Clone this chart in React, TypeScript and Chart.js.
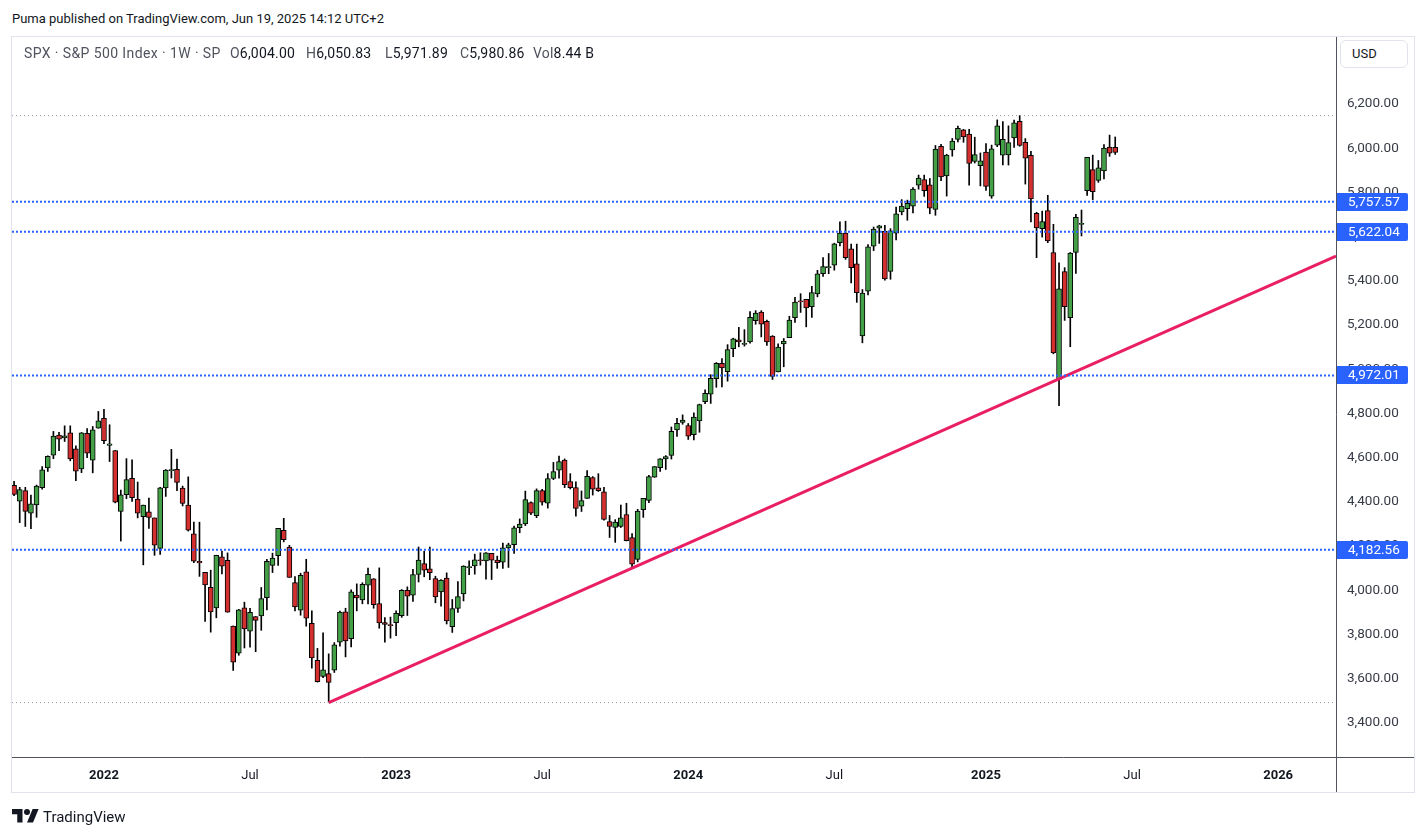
import React, { useEffect, useRef } from "react";
import { Chart, registerables } from "chart.js";

Chart.register(...registerables);

// Weekly S&P 500 candles, first bar is the week of 2021-09-13 (index 0).
const openPrices = [
  // 2021
  4474.8, 4402.9, 4450.3, 4348.8, 4385.4, 4463.7, 4553.7, 4610.6, 4701.5, 4689.3, 4712.0, 4640.2, 4548.4, 4710.3, 4587.9, 4733.0,
  // 2022
  4778.1, 4655.3, 4632.2, 4356.3, 4431.8, 4505.8, 4412.6, 4332.7, 4354.2, 4327.0, 4188.8, 4462.4, 4541.1, 4547.0, 4462.6, 4385.6,
  4255.3, 4130.6, 4081.3, 4013.0, 3919.4, 4151.1, 4134.7, 3838.2, 3715.3, 3920.8, 3815.1, 3880.9, 3883.8, 3965.7, 4112.4, 4155.9,
  4270.4, 4195.1, 4034.6, 3909.4, 4083.7, 3849.9, 3682.7, 3609.8, 3622.8, 3638.7, 3764.7, 3901.8, 3780.7, 3977.9, 3956.2, 4023.3,
  4052.0, 3939.3, 3853.8, 3843.3,
  // 2023
  3853.3, 3884.3, 3999.3, 3978.1, 4071.3, 4120.0, 4096.6, 4052.4, 3992.4, 4055.2, 3835.1, 3917.5, 3982.9, 4102.2, 4110.3, 4137.2,
  4132.1, 4166.8, 4136.1, 4126.7, 4190.8, 4205.5, 4283.0, 4300.2, 4396.1, 4337.4, 4450.5, 4394.2, 4505.3, 4543.4, 4588.9, 4491.6,
  4464.1, 4380.3, 4415.3, 4510.1, 4462.7, 4445.1, 4310.6, 4284.5, 4289.0, 4342.4, 4238.5, 4139.4, 4364.3, 4406.7, 4511.7, 4554.9,
  4594.6, 4610.2, 4725.6, 4758.9,
  // 2024
  4745.2, 4703.7, 4766.1, 4853.4, 4886.7, 4957.2, 5026.8, 4989.3, 5093.0, 5132.4, 5112.0, 5123.3, 5219.5, 5258.0, 5217.0, 5149.7,
  4987.3, 5114.1, 5142.4, 5233.1, 5305.4, 5315.9, 5283.4, 5341.2, 5432.4, 5459.6, 5471.1, 5572.8, 5616.1, 5544.6, 5476.6, 5151.1,
  5353.3, 5557.2, 5637.8, 5623.9, 5442.1, 5615.2, 5711.9, 5726.5, 5737.8, 5833.2, 5857.8, 5833.9, 5723.2, 6008.9, 5874.2, 5992.3,
  6040.1, 6083.0, 6063.8, 5940.3, 5920.7,
  // 2025
  5982.8, 5782.6, 6014.1, 5969.0, 5969.7, 6046.4, 6121.6, 6026.5, 5968.3, 5705.4, 5635.6, 5718.1, 5527.9, 4953.8, 5442.0, 5232.9,
  5529.0, 5655.3, 5807.6, 5902.9, 5854.1, 5896.7, 6004.6, 6004.0,
];

const highPrices = [
  4492.8, 4465.4, 4465.4, 4429.9, 4475.8, 4559.7, 4608.1, 4718.5, 4714.9, 4743.8, 4743.8, 4652.9, 4713.6, 4731.9, 4740.7, 4808.9,
  4818.6, 4748.8, 4632.2, 4453.2, 4595.3, 4590.0, 4489.5, 4385.3, 4416.8, 4327.0, 4465.4, 4546.0, 4637.3, 4593.5, 4471.0, 4512.9,
  4308.5, 4307.7, 4081.3, 4090.7, 4158.5, 4177.5, 4168.8, 3838.2, 3913.6, 3945.9, 3918.5, 3880.9, 4012.4, 4140.2, 4167.7, 4280.5,
  4325.3, 4203.0, 4062.0, 4076.8, 4140.0, 3907.1, 3736.7, 3806.9, 3712.0, 3762.8, 3905.4, 3918.5, 4001.5, 4028.8, 4034.0, 4100.5,
  4052.5, 4101.0, 3876.0, 3878.3,
  3906.2, 4003.0, 4015.4, 4094.2, 4195.4, 4176.5, 4195.4, 4063.3, 4048.3, 4078.5, 3958.0, 4039.5, 4110.8, 4133.1, 4163.2, 4169.5,
  4170.1, 4167.0, 4154.3, 4212.9, 4212.9, 4290.7, 4322.6, 4448.5, 4400.2, 4458.5, 4456.5, 4527.6, 4578.4, 4607.1, 4594.2, 4527.4,
  4490.3, 4449.0, 4541.3, 4514.3, 4527.3, 4465.4, 4338.5, 4319.3, 4385.5, 4393.6, 4256.2, 4366.0, 4415.3, 4520.1, 4560.0, 4595.3,
  4609.2, 4738.6, 4778.0, 4793.3,
  4754.3, 4802.4, 4842.1, 4906.7, 4975.3, 5030.1, 5048.4, 5111.1, 5140.3, 5189.3, 5179.1, 5261.1, 5264.9, 5264.9, 5222.7, 5152.0,
  5114.6, 5139.1, 5239.7, 5325.5, 5341.9, 5315.9, 5375.1, 5447.3, 5505.5, 5523.6, 5570.3, 5666.9, 5669.7, 5566.3, 5566.2, 5360.6,
  5563.4, 5643.2, 5651.4, 5651.4, 5636.1, 5733.6, 5767.4, 5765.1, 5822.1, 5878.5, 5878.3, 5863.0, 6012.5, 6017.3, 5972.9, 6044.2,
  6100.0, 6085.2, 6085.2, 6049.8, 5978.4,
  6021.0, 6014.0, 6128.2, 6120.9, 6101.3, 6127.5, 6147.4, 6043.6, 5986.1, 5710.2, 5715.3, 5787.0, 5655.6, 5481.3, 5459.5, 5528.1,
  5700.7, 5720.1, 5958.6, 5968.6, 5944.7, 6016.9, 6059.4, 6050.83,
];

const lowPrices = [
  4427.8, 4305.9, 4288.5, 4278.9, 4329.9, 4456.7, 4537.4, 4595.1, 4630.9, 4672.9, 4585.4, 4495.1, 4532.0, 4600.2, 4531.1, 4733.0,
  4662.7, 4582.2, 4395.3, 4222.6, 4414.0, 4401.4, 4327.2, 4114.7, 4279.5, 4157.9, 4161.7, 4424.3, 4507.6, 4450.0, 4381.3, 4267.6,
  4124.3, 4062.5, 3858.9, 3810.3, 3875.1, 4073.9, 3900.2, 3636.9, 3705.6, 3738.7, 3742.1, 3721.6, 3818.6, 3910.7, 4079.8, 4112.1,
  4218.7, 4057.7, 3906.2, 3886.8, 3837.1, 3647.5, 3584.1, 3604.2, 3491.6, 3627.7, 3747.0, 3698.2, 3742.9, 3906.5, 3938.6, 3938.0,
  3918.4, 3827.9, 3764.5, 3783.2,
  3794.3, 3877.3, 3885.5, 3949.1, 4037.2, 4060.8, 4047.8, 3943.1, 3928.2, 3847.1, 3808.9, 3899.4, 3951.5, 4069.8, 4072.5, 4113.2,
  4049.9, 4048.3, 4098.9, 4098.7, 4103.0, 4166.6, 4260.2, 4292.4, 4341.3, 4328.1, 4385.1, 4371.5, 4500.4, 4507.2, 4464.4, 4458.0,
  4335.3, 4356.3, 4414.9, 4430.5, 4446.8, 4316.5, 4238.6, 4216.5, 4283.8, 4223.0, 4103.8, 4127.9, 4329.6, 4396.6, 4510.4, 4537.2,
  4546.5, 4593.4, 4695.5, 4751.0,
  4682.1, 4680.0, 4714.8, 4844.1, 4845.2, 4918.1, 4920.3, 4946.0, 5056.8, 5101.4, 5104.4, 5117.5, 5203.4, 5146.1, 5107.9, 4953.6,
  4987.3, 5011.1, 5142.4, 5211.2, 5256.9, 5191.7, 5234.3, 5327.3, 5420.3, 5432.1, 5448.0, 5557.8, 5497.0, 5391.0, 5302.4, 5119.3,
  5336.0, 5536.8, 5569.2, 5402.6, 5407.0, 5585.0, 5698.4, 5674.0, 5707.0, 5814.5, 5782.0, 5703.4, 5696.5, 5853.0, 5783.4, 5963.9,
  6028.0, 6026.9, 5832.3, 5933.0, 5829.5,
  5809.2, 5773.3, 6007.1, 5923.9, 5923.9, 6003.0, 6008.6, 5837.7, 5666.3, 5504.7, 5597.8, 5572.4, 5069.9, 4835.0, 5220.8, 5101.6,
  5433.2, 5603.1, 5786.1, 5767.4, 5845.6, 5861.4, 5963.2, 5971.89,
];

const closePrices = [
  4433.0, 4455.5, 4357.0, 4391.3, 4471.4, 4544.9, 4605.4, 4697.5, 4682.9, 4698.0, 4594.6, 4538.4, 4712.0, 4620.6, 4725.8, 4766.2,
  4677.0, 4662.9, 4397.9, 4431.9, 4500.5, 4418.6, 4348.9, 4384.7, 4328.9, 4204.3, 4463.1, 4543.1, 4545.9, 4488.3, 4392.6, 4271.8,
  4131.9, 4123.3, 4023.9, 3901.4, 4158.2, 4108.5, 3900.9, 3674.8, 3911.7, 3825.3, 3899.4, 3863.2, 3961.6, 4130.3, 4145.2, 4280.2,
  4228.5, 4057.7, 3924.3, 4067.4, 3873.3, 3693.2, 3585.6, 3639.7, 3583.1, 3752.8, 3901.1, 3770.6, 3992.9, 3965.3, 4026.1, 4071.7,
  3934.4, 3852.4, 3844.8, 3839.5,
  3895.1, 3999.1, 3972.6, 4070.6, 4136.5, 4090.5, 4079.1, 3970.0, 4045.6, 3861.6, 3916.6, 3970.9, 4109.3, 4105.0, 4137.6, 4133.5,
  4169.5, 4136.3, 4124.1, 4191.9, 4205.5, 4282.4, 4298.9, 4409.6, 4348.3, 4450.4, 4398.9, 4505.4, 4536.3, 4582.2, 4478.0, 4464.1,
  4369.7, 4405.7, 4515.8, 4457.5, 4450.3, 4320.1, 4288.1, 4308.5, 4327.8, 4224.2, 4117.4, 4358.3, 4415.2, 4514.0, 4559.3, 4594.6,
  4604.4, 4719.2, 4754.6, 4769.8,
  4697.2, 4783.8, 4839.8, 4891.0, 4958.6, 5026.6, 5005.6, 5088.8, 5137.1, 5123.7, 5117.1, 5234.2, 5254.4, 5204.3, 5123.4, 4967.2,
  5100.0, 5127.8, 5222.7, 5303.3, 5304.7, 5277.5, 5347.0, 5431.6, 5464.6, 5460.5, 5567.2, 5615.4, 5505.0, 5459.1, 5346.6, 5344.2,
  5554.3, 5634.6, 5648.4, 5408.4, 5626.0, 5702.6, 5738.2, 5751.1, 5815.0, 5864.7, 5808.1, 5728.8, 5995.5, 5870.6, 5969.3, 6032.4,
  6090.3, 6051.1, 5930.9, 5970.8, 5942.5,
  5827.0, 5996.7, 6101.2, 6040.5, 6026.0, 6114.6, 6013.1, 5954.5, 5770.2, 5638.9, 5667.6, 5580.9, 5074.1, 5363.4, 5282.7, 5525.2,
  5686.7, 5659.9, 5958.4, 5802.8, 5911.7, 6000.4, 5977.0, 5980.86,
];

// Time axis: week indices of the labelled bars
const timeTickWeeks = [16, 42, 68, 94, 120, 146, 173, 199, 225];
const timeTickLabels = ["2022", "Jul", "2023", "Jul", "2024", "Jul", "2025", "Jul", "2026"];

// Price axis labels
const priceTicks = [3400, 3600, 3800, 4000, 4200, 4400, 4600, 4800, 5000, 5200, 5400, 5600, 5800, 6000, 6200];

// Horizontal support / resistance levels
const levelPrices = [5757.57, 5622.04, 4972.01, 4182.56];
// Highest high and lowest low of the visible range
const rangeHigh = 6147.43;
const rangeLow = 3491.58;

// Rising trend line from the October 2022 low
const trendWeeks = [56, 235.3];
const trendPrices = [3491.58, 5512];

// Legend line of the last bar
const symbolLine = "SPX · S&P 500 Index · 1W · SP";
const ohlcKeys = ["O", "H", "L", "C", "Vol"];
const ohlcValues = ["6,004.00", "6,050.83", "5,971.89", "5,980.86", "8.44 B"];
const ohlcLefts = [230, 306, 385, 460, 533];

const X_MIN = -0.37;
const X_MAX = 235.3;
const Y_MIN = 3245.3;
const Y_MAX = 6503.2;

const UP = "#43a047";
const DOWN = "#d32f2f";
const LEVEL_BLUE = "#2962ff";
const FONT = "Roboto, 'Liberation Sans', Arial, sans-serif";

const fmt = (v: number) =>
  v.toLocaleString("en-US", { minimumFractionDigits: 2, maximumFractionDigits: 2 });

const paneFrame = {
  id: "paneFrame",
  afterDraw(chart: any) {
    const { ctx, chartArea } = chart;
    const { left, right, top, bottom } = chartArea;
    ctx.save();
    // outer pane border
    ctx.strokeStyle = "#e0e3eb";
    ctx.lineWidth = 1;
    ctx.strokeRect(left - 0.5, top - 0.5, 1414 - left + 1, 792 - top + 1);
    // axis separators
    ctx.strokeStyle = "#50535e";
    ctx.beginPath();
    ctx.moveTo(right + 0.5, top);
    ctx.lineTo(right + 0.5, 792);
    ctx.moveTo(left, bottom + 0.5);
    ctx.lineTo(1414, bottom + 0.5);
    ctx.stroke();
    // level price tags on the price scale
    const yScale = chart.scales.y;
    ctx.font = `13.5px ${FONT}`;
    ctx.textBaseline = "middle";
    ctx.textAlign = "left";
    levelPrices.forEach((p) => {
      const py = Math.round(yScale.getPixelForValue(p));
      ctx.fillStyle = LEVEL_BLUE;
      ctx.beginPath();
      ctx.roundRect(right + 1, py - 9, 71, 18, [0, 2, 2, 0]);
      ctx.fill();
      ctx.fillStyle = "#ffffff";
      ctx.fillText(fmt(p), right + 12, py + 0.5);
    });
    ctx.restore();
  },
};

function hLine(y: number, color: string, width: number, dash: number[], order: number) {
  return {
    type: "line" as const,
    data: [
      { x: X_MIN, y },
      { x: X_MAX, y },
    ],
    borderColor: color,
    borderWidth: width,
    borderDash: dash,
    pointRadius: 0,
    fill: false,
    order,
  };
}

export default function App() {
  const canvasRef = useRef<HTMLCanvasElement | null>(null);

  useEffect(() => {
    if (!canvasRef.current) return;
    const wicks = openPrices.map((_, i) => ({ x: i, y: [lowPrices[i], highPrices[i]] }));
    const bodies = openPrices.map((o, i) => ({ x: i, y: [o, closePrices[i]] }));
    const bodyColors = openPrices.map((o, i) => (closePrices[i] >= o ? UP : DOWN));

    const chart = new Chart(canvasRef.current, {
      type: "bar",
      data: {
        datasets: [
          hLine(rangeHigh, "#9598a1", 1, [1, 3], 0) as any,
          hLine(rangeLow, "#9598a1", 1, [1, 3], 0) as any,
          ...levelPrices.map((p) => hLine(p, LEVEL_BLUE, 2, [2, 2], 0) as any),
          {
            type: "line",
            data: trendWeeks.map((w, i) => ({ x: w, y: trendPrices[i] })),
            borderColor: "#e91e63",
            borderWidth: 3,
            pointRadius: 0,
            fill: false,
            order: 0,
          } as any,
          {
            type: "bar",
            data: bodies as any,
            backgroundColor: bodyColors,
            borderColor: "#000000",
            borderWidth: 1,
            borderSkipped: false,
            barThickness: 5,
            minBarLength: 1,
            grouped: false,
            order: 1,
          } as any,
          {
            type: "bar",
            data: wicks as any,
            backgroundColor: "#000000",
            borderWidth: 0,
            barThickness: 1,
            grouped: false,
            order: 2,
          } as any,
        ],
      },
      options: {
        responsive: false,
        maintainAspectRatio: false,
        animation: false,
        events: [],
        layout: { padding: { left: 12, top: 37, right: 12, bottom: 45 } },
        plugins: { legend: { display: false }, tooltip: { enabled: false } },
        scales: {
          x: {
            type: "linear",
            position: "bottom",
            min: X_MIN,
            max: X_MAX,
            offset: false,
            grid: { display: false, drawTicks: false },
            border: { display: false },
            afterBuildTicks: (scale: any) => {
              scale.ticks = timeTickWeeks.map((v) => ({ value: v }));
            },
            afterFit: (scale: any) => {
              scale.height = 35;
            },
            ticks: {
              autoSkip: false,
              maxRotation: 0,
              padding: 11,
              color: "#131722",
              font: (ctx: any) => ({
                family: FONT,
                size: 13,
                weight: /^\d{4}$/.test(timeTickLabels[ctx.index] || "") ? "bold" : "normal",
              }),
              callback: (_v: any, i: number) => timeTickLabels[i],
            },
          },
          y: {
            type: "linear",
            position: "right",
            min: Y_MIN,
            max: Y_MAX,
            grid: { display: false, drawTicks: false },
            border: { display: false },
            afterBuildTicks: (scale: any) => {
              scale.ticks = priceTicks.map((v) => ({ value: v }));
            },
            afterFit: (scale: any) => {
              scale.width = 78;
            },
            ticks: {
              padding: 11,
              color: "#363a45",
              font: { family: FONT, size: 13.5 },
              callback: (v: any) => fmt(Number(v)),
            },
          },
        },
      } as any,
      plugins: [paneFrame],
    });
    return () => chart.destroy();
  }, []);

  const legendText = { position: "absolute" as const, top: 44, fontSize: 14, lineHeight: "18px", whiteSpace: "pre" as const };
  return (
    <div
      style={{
        position: "fixed",
        left: 0,
        top: 0,
        width: 1426,
        height: 837,
        background: "#ffffff",
        fontFamily: FONT,
        color: "#131722",
        overflow: "hidden",
      }}
    >
      <div
        style={{
          position: "absolute",
          left: 12,
          top: 10,
          fontSize: 13,
          lineHeight: "18px",
          color: "#131722",
        }}
      >
        Puma published on TradingView.com, Jun 19, 2025 14:12 UTC+2
      </div>
      <canvas ref={canvasRef} width={1426} height={837} style={{ position: "absolute", left: 0, top: 0 }} />
      <div style={{ ...legendText, left: 24, color: "#50535e", letterSpacing: "0.4px" }}>{symbolLine}</div>
      {ohlcKeys.map((k, i) => (
        <div key={k} style={{ ...legendText, left: ohlcLefts[i], color: "#50535e", letterSpacing: "0.2px" }}>
          {k}
          <span style={{ color: "#131722" }}>{ohlcValues[i]}</span>
        </div>
      ))}
      <div
        style={{
          position: "absolute",
          left: 1340,
          top: 40,
          width: 68,
          height: 28,
          boxSizing: "border-box",
          border: "1px solid #e0e3eb",
          borderRadius: 6,
          fontSize: 13,
          lineHeight: "26px",
          paddingLeft: 11,
          color: "#131722",
          background: "#ffffff",
        }}
      >
        USD
      </div>
      <div style={{ position: "absolute", left: 12, top: 806, display: "flex", alignItems: "center", gap: 4 }}>
        <svg width={27} height={21} viewBox="0 0 36 28">
          <path d="M14 22H7V11H0V4h14v18zM28 22h-8l7.5-18h8L28 22z" fill="#131722" />
          <circle cx="20" cy="8" r="4" fill="#131722" />
        </svg>
        <span style={{ fontSize: 15, lineHeight: "18px", color: "#131722" }}>TradingView</span>
      </div>
    </div>
  );
}
